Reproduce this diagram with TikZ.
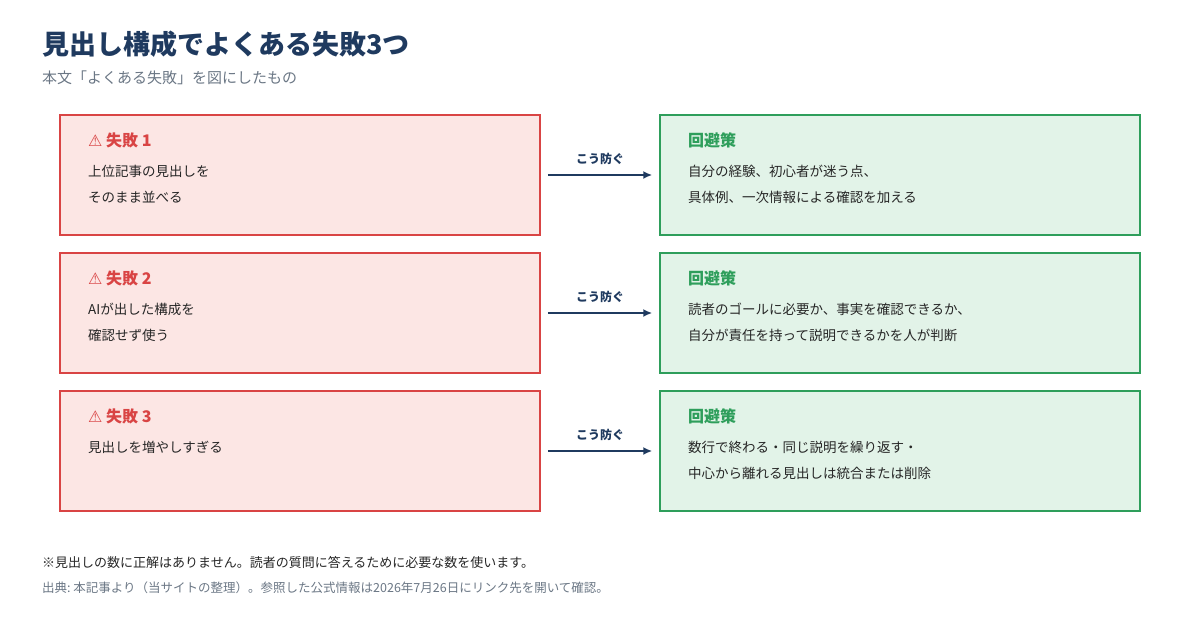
\documentclass[tikz,border=0pt]{standalone}
\usepackage{fontspec}
\setmainfont{Noto Sans CJK JP}
\newfontfamily\symfont{DejaVu Sans}
\usetikzlibrary{positioning, arrows.meta}
\definecolor{navy}{HTML}{1F3A5F}
\definecolor{failRed}{HTML}{D94444}
\definecolor{failFill}{HTML}{FCE6E4}
\definecolor{fixGreen}{HTML}{2E9E5B}
\definecolor{fixFill}{HTML}{E2F3E8}
\definecolor{subGray}{HTML}{6B7785}
\tikzset{
    fail/.style={rectangle, draw=failRed, line width=1.5pt, fill=failFill, minimum width=480pt, minimum height=120pt},
    fix/.style={rectangle, draw=fixGreen, line width=1.5pt, fill=fixFill, minimum width=480pt, minimum height=120pt},
    failTitle/.style={anchor=west, font=\fontsize{16}{18}\selectfont\bfseries, text=failRed, inner sep=0pt},
    fixTitle/.style={anchor=west, font=\fontsize{16}{18}\selectfont\bfseries, text=fixGreen, inner sep=0pt},
    body/.style={anchor=north west, align=left, font=\fontsize{13.5}{26}\selectfont, text=black!85, inner sep=0pt},
    arrow/.style={-{Latex[length=9pt,width=8pt]}, line width=2.5pt, navy},
    tag/.style={font=\fontsize{12}{14}\selectfont\bfseries, text=navy, inner sep=0pt}
}
\begin{document}
\begin{tikzpicture}[x=1pt, y=-1pt]
        \useasboundingbox (0,0) rectangle (1200,618);
        
        % Title
        \node[anchor=west, inner sep=0pt, font=\fontsize{27}{30}\selectfont\bfseries, text=navy] (Title) at (42,44) {見出し構成でよくある失敗3つ};
        \node[anchor=west, inner sep=0pt, font=\fontsize{15}{18}\selectfont, text=subGray] (Sub) at (42,78) {本文「よくある失敗」を図にしたもの};
        
        % Failures
        \node[fail] (Fail1) at (300,175) {};
        \node[fail] (Fail2) at (300,313) {};
        \node[fail] (Fail3) at (300,451) {};
        
        % Fixes
        \node[fix] (Fix1) at (900,175) {};
        \node[fix] (Fix2) at (900,313) {};
        \node[fix] (Fix3) at (900,451) {};
        
        % Failure texts
        \node[failTitle] (FailT1) at (88,140) {{\symfont ⚠} 失敗 1};
        \node[body] (FailB1) at (88,165) {上位記事の見出しを\\そのまま並べる};
        \node[failTitle] (FailT2) at (88,278) {{\symfont ⚠} 失敗 2};
        \node[body] (FailB2) at (88,303) {AIが出した構成を\\確認せず使う};
        \node[failTitle] (FailT3) at (88,416) {{\symfont ⚠} 失敗 3};
        \node[body] (FailB3) at (88,441) {見出しを増やしすぎる};
        
        % Fix texts
        \node[fixTitle] (FixT1) at (688,140) {回避策};
        \node[body] (FixB1) at (688,165) {自分の経験、初心者が迷う点、\\具体例、一次情報による確認を加える};
        \node[fixTitle] (FixT2) at (688,278) {回避策};
        \node[body] (FixB2) at (688,303) {読者のゴールに必要か、事実を確認できるか、\\自分が責任を持って説明できるかを人が判断};
        \node[fixTitle] (FixT3) at (688,416) {回避策};
        \node[body] (FixB3) at (688,441) {数行で終わる・同じ説明を繰り返す・\\中心から離れる見出しは統合または削除};
        
        % Arrows
        \draw[arrow, shorten <=7pt, shorten >=7pt] (Fail1) -- node[tag, above=9pt] {こう防ぐ} (Fix1);
        \draw[arrow, shorten <=7pt, shorten >=7pt] (Fail2) -- node[tag, above=9pt] {こう防ぐ} (Fix2);
        \draw[arrow, shorten <=7pt, shorten >=7pt] (Fail3) -- node[tag, above=9pt] {こう防ぐ} (Fix3);
        
        % Notes
        \node[anchor=west, inner sep=0pt, font=\fontsize{13}{15}\selectfont, text=black!85] (Note) at (42,562) {※見出しの数に正解はありません。読者の質問に答えるために必要な数を使います。};
        \node[anchor=west, inner sep=0pt, font=\fontsize{12.5}{14}\selectfont, text=subGray] (Src) at (42,588) {出典:\ 本記事より（当サイトの整理）。参照した公式情報は2026年7月26日にリンク先を開いて確認。};
    \end{tikzpicture}
\end{document}
